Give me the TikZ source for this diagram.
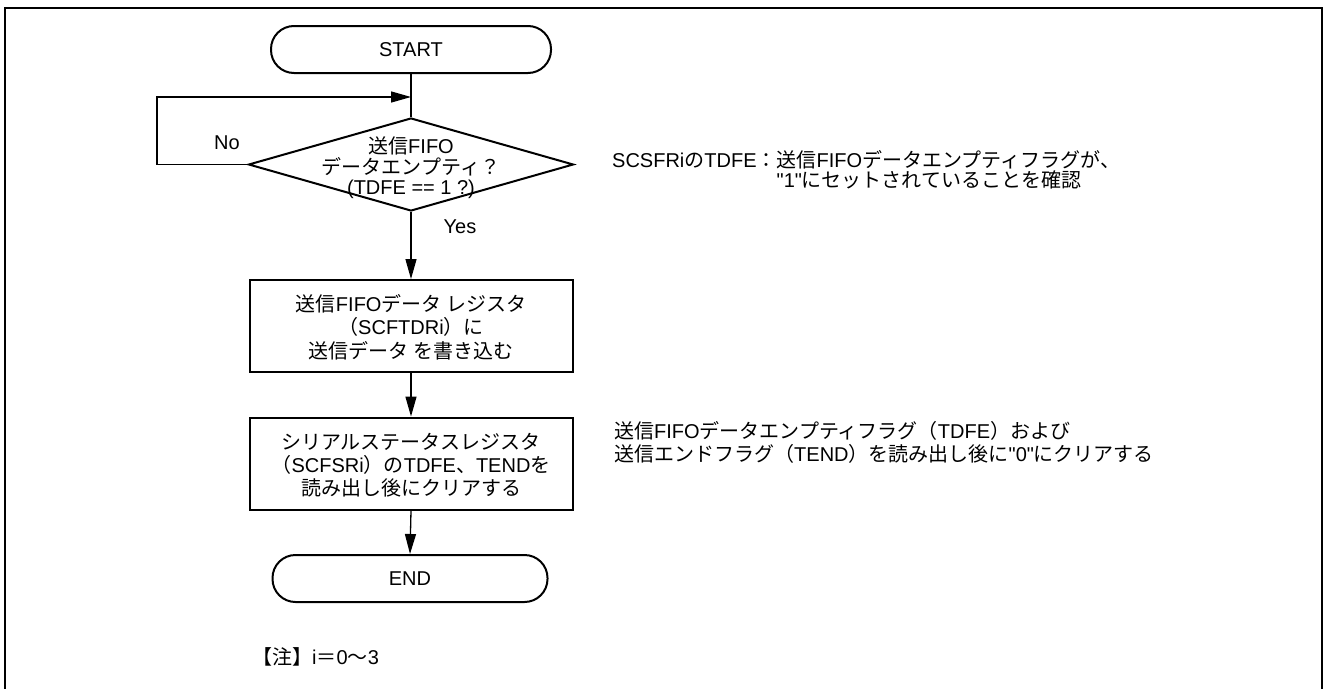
\documentclass[tikz,border=0pt]{standalone}
\usepackage{fontspec}
\setmainfont{Liberation Sans}[Ligatures=TeXOff]
\newfontfamily\jp{Noto Sans CJK JP}
\usetikzlibrary{arrows.meta,shapes.geometric}
\newcommand\J[1]{{\jp #1}}
\begin{document}
\begin{tikzpicture}[x=1pt,y=-1pt,
  font=\fontsize{20}{23}\selectfont,
  frame/.style={line width=2.7pt},
  wire/.style={line width=1.3pt},
  conn/.style={line width=1.3pt,-{Triangle[length=20pt,width=11pt]}},
  term/.style={draw,line width=2pt,rounded corners=23pt,minimum width=280pt,minimum height=47pt,inner sep=0pt},
  proc/.style={draw,line width=2pt,minimum width=323pt,minimum height=92pt,inner sep=0pt},
  dec/.style={draw,line width=2pt,diamond,minimum width=325pt,minimum height=93pt,inner sep=0pt},
  txt/.style={inner sep=0pt,align=center},
  note/.style={inner sep=0pt,align=left,anchor=north west}]
\useasboundingbox (0,0) rectangle (1324,688);
\draw[frame] (5,700) -- (5,8) -- (1322,8) -- (1322,700);

\node[term] (start) at (411,49.5) {START};
\node[dec] (d) at (411,164.5) {};
\node[txt,font=\fontsize{20}{20.5}\selectfont] (dt) at (411,168) {\J{送信}FIFO\\\J{データエンプティ？}\\(TDFE == 1 ?)};
\node[proc] (b1) at (411,326) {};
\node[txt,font=\fontsize{20}{23.5}\selectfont] (b1t) at (411,327) {\J{送信}FIFO\J{データ レジスタ}\\\J{（}SCFTDRi\J{）に}\\\J{送信データ を書き込む}};
\node[proc] (b2) at (411,463.5) {};
\node[txt,font=\fontsize{20}{23}\selectfont] (b2t) at (411,465) {\J{シリアルステータスレジスタ}\\\J{（}SCFSRi\J{）の}TDFE\J{、}TEND\J{を}\\\J{読み出し後にクリアする}};
\node[term,minimum width=275pt] (end) at (410,578.5) {END};

\coordinate (loopc) at (157,97);
\coordinate (merge) at (411,97);
\draw[wire] (start.south) -- (d.north);
\draw[conn] (d.west) -| (loopc) -- (merge);
\draw[conn] (d.south) -- (b1.north);
\draw[conn] (b1.south) -- (b2.north);
\draw[conn] (b2.south) -- (end.north);

\node[txt] (no) at (227,143) {No};
\node[txt] (yes) at (460,227) {Yes};

\node[note,font=\fontsize{20}{20}\selectfont] (n1) at (612,150) {SCSFRi\J{の}TDFE\J{：送信}FIFO\J{データエンプティフラグが、}\\\phantom{SCSFRi\J{の}TDFE\J{：}}"1"\J{にセットされていることを確認}};
\node[note,font=\fontsize{20}{23}\selectfont] (n2) at (614,421) {\J{送信}FIFO\J{データエンプティフラグ（}TDFE\J{）および}\\\J{送信エンドフラグ（}TEND\J{）を読み出し後に}"0"\J{にクリアする}};
\node[txt,anchor=west] (n3) at (252,657) {\J{【注】}i\J{＝}0\J{～}3};
\end{tikzpicture}
\end{document}
